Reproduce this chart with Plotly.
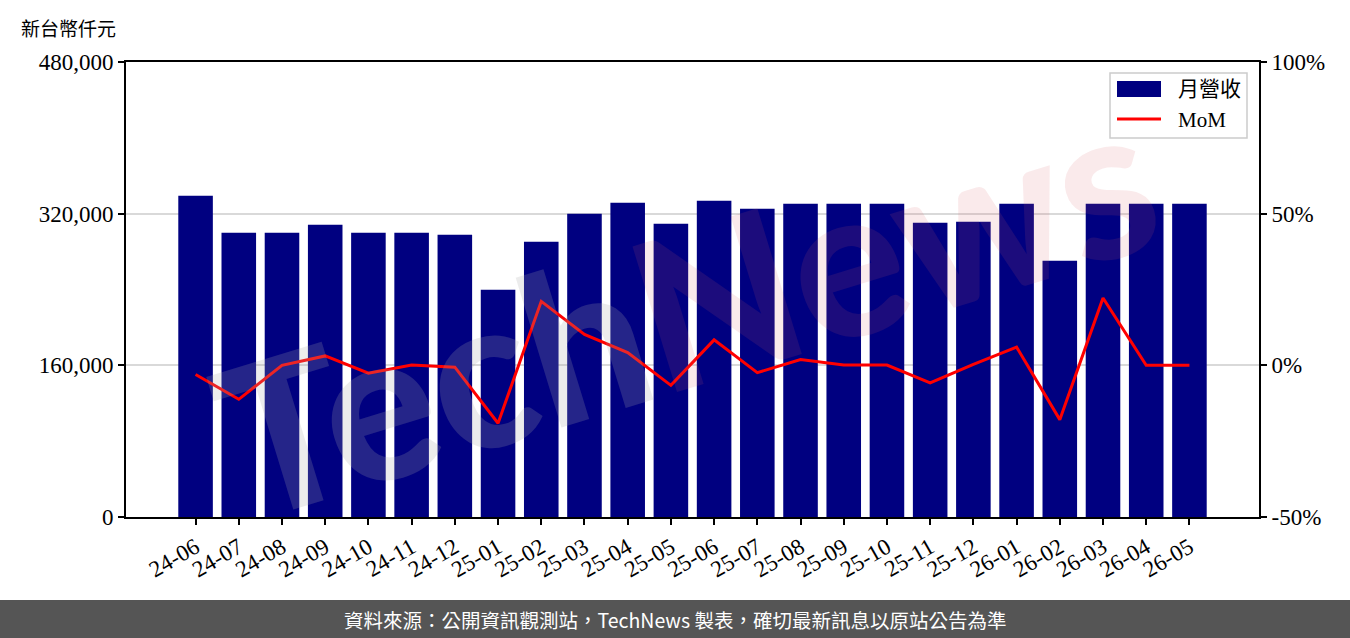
import plotly.graph_objects as go

months = ["24-06", "24-07", "24-08", "24-09", "24-10", "24-11", "24-12",
          "25-01", "25-02", "25-03", "25-04", "25-05", "25-06", "25-07",
          "25-08", "25-09", "25-10", "25-11", "25-12", "26-01", "26-02",
          "26-03", "26-04", "26-05"]
revenue = [339000, 300000, 300000, 308300, 300000, 300000, 297800,
           239800, 290400, 320000, 331600, 309400, 333700, 325200,
           330500, 330500, 330500, 310500, 311500, 330500, 270400,
           330500, 330500, 330500]
mom = [-0.030, -0.112, 0.000, 0.031, -0.026, 0.001, -0.006,
       -0.191, 0.211, 0.102, 0.042, -0.066, 0.084, -0.024,
       0.019, 0.001, 0.001, -0.058, 0.003, 0.060, -0.179,
       0.222, 0.000, 0.000]
left_ticks = [0, 160000, 320000, 480000]
right_ticks = [-0.5, 0.0, 0.5, 1.0]
series_names = ["月營收", "MoM"]

W, H = 1350, 638
L, R, T, B = 126, 1259, 62, 517
SERIF = "Liberation Serif, Noto Sans CJK TC"
CJK = "Noto Sans CJK TC"
BAR_COLOR = "#000080"
LINE_COLOR = "#ff0000"

x_idx = list(range(len(months)))

fig = go.Figure()
fig.add_trace(go.Bar(x=x_idx, y=revenue, name=series_names[0], marker_color=BAR_COLOR,
                     marker_line_width=0, width=0.8, yaxis="y"))
fig.add_trace(go.Scatter(x=x_idx, y=mom, name=series_names[1], mode="lines",
                         line=dict(color=LINE_COLOR, width=3), yaxis="y2"))


def px_x(p):
    return (p - L) / (R - L)


def px_y(p):
    return (B - p) / (B - T)


fig.update_layout(
    width=W, height=H,
    margin=dict(l=L, r=W - R, t=T, b=H - B, pad=0),
    paper_bgcolor="white", plot_bgcolor="white",
    showlegend=False,
    xaxis=dict(range=[-1.61, 24.61], tickmode="array", tickvals=x_idx, ticktext=months,
               tickangle=-30, ticks="outside", ticklen=6, tickwidth=1.5, tickcolor="black",
               showline=True, linecolor="black", linewidth=2, mirror=True,
               showgrid=False, zeroline=False,
               tickfont=dict(family=SERIF, size=23, color="black")),
    yaxis=dict(range=[0, 480000], tickmode="array", tickvals=left_ticks,
               ticktext=[f"{v:,}" for v in left_ticks],
               ticks="outside", ticklen=6, tickwidth=1.5, tickcolor="black",
               showline=True, linecolor="black", linewidth=2,
               showgrid=True, gridcolor="#d9d9d9", gridwidth=1.5, zeroline=False,
               tickfont=dict(family=SERIF, size=23, color="black")),
    yaxis2=dict(range=[-0.5, 1.0], overlaying="y", side="right", tickmode="array",
                tickvals=right_ticks, ticktext=[f"{int(v*100)}%" for v in right_ticks],
                ticks="outside", ticklen=6, tickwidth=1.5, tickcolor="black",
                showline=True, linecolor="black", linewidth=2,
                showgrid=False, zeroline=False,
                tickfont=dict(family=SERIF, size=23, color="black")),
    bargap=0.2,
)

# watermark
fig.add_annotation(
    x=px_x(685), y=px_y(305), xref="paper", yref="paper", showarrow=False,
    text="<span style='color:rgba(170,170,170,0.22)'>Tech</span>"
         "<span style='color:rgba(220,90,100,0.13)'>News</span>",
    font=dict(family="Lato", size=210, weight=900),
    textangle=-17,
)

# custom legend (matplotlib-like)
fig.add_shape(type="rect", xref="paper", yref="paper",
              x0=px_x(1110), x1=px_x(1247), y0=px_y(138), y1=px_y(73),
              fillcolor="rgba(255,255,255,0.85)", line=dict(color="#cccccc", width=1.5),
              layer="above")
fig.add_shape(type="rect", xref="paper", yref="paper",
              x0=px_x(1117), x1=px_x(1161), y0=px_y(97), y1=px_y(81),
              fillcolor=BAR_COLOR, line_width=0, layer="above")
fig.add_shape(type="line", xref="paper", yref="paper",
              x0=px_x(1117), x1=px_x(1161), y0=px_y(119), y1=px_y(119),
              line=dict(color=LINE_COLOR, width=3), layer="above")
fig.add_annotation(x=px_x(1176), y=px_y(89), xref="paper", yref="paper", showarrow=False,
                   xanchor="left", yanchor="middle", text=series_names[0],
                   font=dict(family=SERIF, size=21, color="black"))
fig.add_annotation(x=px_x(1176), y=px_y(120), xref="paper", yref="paper", showarrow=False,
                   xanchor="left", yanchor="middle", text=series_names[1],
                   font=dict(family=SERIF, size=21, color="black"))

# y-axis unit title
fig.add_annotation(x=px_x(19), y=px_y(27), xref="paper", yref="paper", showarrow=False,
                   xanchor="left", yanchor="middle", text="新台幣仟元",
                   font=dict(family=CJK, size=19, color="black"))

# footer band
fig.add_shape(type="rect", xref="paper", yref="paper",
              x0=px_x(0), x1=px_x(W), y0=px_y(H), y1=px_y(600),
              fillcolor="#555555", line_width=0, layer="above")
fig.add_annotation(x=px_x(675), y=px_y(619), xref="paper", yref="paper", showarrow=False,
                   xanchor="center", yanchor="middle",
                   text="資料來源：公開資訊觀測站，TechNews 製表，確切最新訊息以原站公告為準",
                   font=dict(family=CJK, size=19.5, color="white"))

fig.write_html("out.html")
